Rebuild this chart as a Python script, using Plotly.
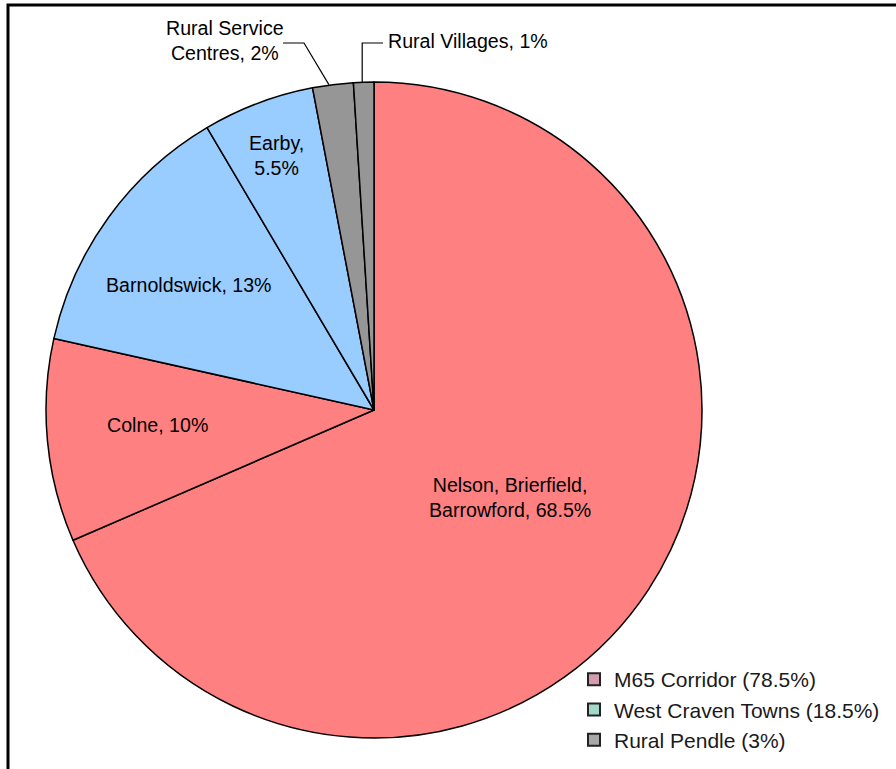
import math
import plotly.graph_objects as go

# ---- data ----
labels = ["Nelson, Brierfield, Barrowford", "Colne", "Barnoldswick", "Earby",
          "Rural Service Centres", "Rural Villages"]
values = [68.5, 10, 13, 5.5, 2, 1]
label_text = ["Nelson, Brierfield,<br>Barrowford, 68.5%", "Colne, 10%",
              "Barnoldswick, 13%", "Earby,<br>5.5%",
              "Rural Service<br>Centres, 2%", "Rural Villages, 1%"]
slice_colors = ["#FF8080", "#FF8080", "#99CCFF", "#99CCFF", "#969696", "#969696"]

groups = ["M65 Corridor (78.5%)", "West Craven Towns (18.5%)", "Rural Pendle (3%)"]
group_colors = ["#D49AAE", "#A2D9C9", "#A8A8A8"]

W, H = 896, 769
CX, CY, R = 374, 410, 328  # pie centre / radius in pixels


def px(x):
    return x / W


def py(y):
    return 1 - y / H


fig = go.Figure()
fig.add_trace(go.Pie(
    labels=labels, values=values, sort=False, direction="clockwise",
    rotation=0, marker=dict(colors=slice_colors, line=dict(color="black", width=1.5)),
    textinfo="none", hoverinfo="label+percent", showlegend=False,
    domain=dict(x=[px(CX - R), px(CX + R)], y=[py(CY + R), py(CY - R)]),
))

# legend entries (groups)
for g, c in zip(groups, group_colors):
    fig.add_trace(go.Scatter(
        x=[None], y=[None], mode="markers", name=g,
        marker=dict(symbol="square", size=12, color=c,
                    line=dict(color="#222222", width=2)),
    ))

# slice mid angles (clockwise from 12 o'clock)
total = sum(values)
mids = []
cum = 0
for v in values:
    mids.append((cum + v / 2) / total * 2 * math.pi)
    cum += v


def edge_point(i, f):
    a = mids[i]
    return CX + f * R * math.sin(a), CY - f * R * math.cos(a)


font = dict(family="Liberation Sans, Arial, sans-serif", size=19.6, color="black")
annotations = []
label_pos = [(510, 497), (157, 425), (189, 285), (276, 155),
             (225, 41), (386, 41)]
anchors = ["center", "center", "center", "center", "center", "left"]
for i in range(6):
    x, y = label_pos[i]
    annotations.append(dict(x=px(x), y=py(y), xref="paper", yref="paper",
                            text=label_text[i], showarrow=False, font=font,
                            xanchor=anchors[i], yanchor="middle"))

shapes = []
# leader lines
ex, ey = edge_point(4, 1.0)
shapes.append(dict(type="path", xref="paper", yref="paper",
                   path=f"M {px(283)} {py(43)} L {px(304)} {py(43)} L {px(ex - 4)} {py(ey)}",
                   line=dict(color="black", width=1.2)))
ex, ey = edge_point(5, 1.0)
shapes.append(dict(type="path", xref="paper", yref="paper",
                   path=f"M {px(ex - 1.5)} {py(ey)} L {px(ex - 1.5)} {py(43)} L {px(383)} {py(43)}",
                   line=dict(color="black", width=1.2)))
# outer frame
shapes.append(dict(type="rect", xref="paper", yref="paper",
                   x0=px(8), x1=px(W + 20), y0=py(H + 20), y1=py(5),
                   line=dict(color="black", width=3)))

fig.update_layout(
    width=W, height=H, margin=dict(l=0, r=0, t=0, b=0),
    paper_bgcolor="white", plot_bgcolor="white",
    xaxis=dict(visible=False), yaxis=dict(visible=False),
    annotations=annotations, shapes=shapes,
    legend=dict(x=px(574), y=py(659), xanchor="left", yanchor="top",
                font=dict(family="Liberation Sans, Arial, sans-serif", size=21, color="#1a1a1a"),
                bgcolor="rgba(0,0,0,0)", itemwidth=30, tracegroupgap=0),
)

fig.write_html("out.html")
